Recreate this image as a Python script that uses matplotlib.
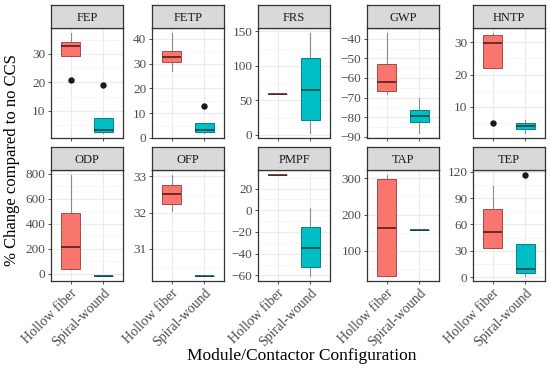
import matplotlib
matplotlib.use("Agg")
import matplotlib.pyplot as plt
import numpy as np

plt.rcParams['font.family'] = ['Liberation Serif', 'DejaVu Serif']

panels = ['FEP', 'FETP', 'FRS', 'GWP', 'HNTP', 'ODP', 'OFP', 'PMPF', 'TAP', 'TEP']
groups = ['Hollow fiber', 'Spiral-wound']

hf_whislo = [29.2, 26.9, 59.3, -68.0, 21.9, 36, 32.04, 32.4, 30.3, 33.2]
hf_q1 = [29.2, 30.5, 59.3, -66.8, 21.9, 36, 32.24, 32.4, 30.3, 33.2]
hf_med = [32.6, 32.6, 59.3, -62.0, 29.8, 214, 32.51, 32.4, 163, 51.3]
hf_q3 = [34.0, 35.1, 59.3, -52.7, 32.3, 483, 32.76, 32.4, 299, 77.3]
hf_whishi = [37.3, 42.3, 59.3, -37.1, 32.9, 789, 33.04, 32.4, 309, 103.7]
hf_fliers = [[20.8], [], [], [], [5.0], [], [], [], [], []]

sw_whislo = [2.2, 2.0, 2.7, -88.0, 1.9, -19, 30.25, -60.5, 157, 1.5]
sw_q1 = [2.5, 2.4, 21.0, -82.4, 3.0, -19, 30.25, -52.0, 157, 5.2]
sw_med = [3.3, 3.4, 64.5, -79.1, 4.0, -19, 30.25, -35.0, 157, 9.4]
sw_q3 = [7.6, 6.2, 111.4, -76.1, 5.0, -19, 30.25, -15.7, 157, 37.8]
sw_whishi = [7.6, 6.2, 147.7, -70.0, 5.8, -19, 30.25, 2.4, 157, 37.8]
sw_fliers = [[19.2], [12.7], [], [], [], [], [], [], [], [116.2]]

y_ticks = [
    [10, 20, 30],
    [0, 10, 20, 30, 40],
    [0, 50, 100, 150],
    [-90, -80, -70, -60, -50, -40],
    [10, 20, 30],
    [0, 200, 400, 600, 800],
    [31, 32, 33],
    [-60, -40, -20, 0, 20],
    [100, 200, 300],
    [0, 30, 60, 90, 120],
]

fill_colors = ['#F8766D', '#00BFC4']
edge_colors = ['#A84A46', '#00858A']
med_colors = ['#4A1614', '#003C3E']

W, H = 550, 371
fig = plt.figure(figsize=(W / 100, H / 100), dpi=100)

col_left = [51, 152, 258, 367, 473]
pw = 72
rows = [(5, 28, 138), (147, 170, 281)]  # strip top, panel top, panel bottom

def fx(px):
    return px / W

def fy(py):
    return 1 - py / H

for i, name in enumerate(panels):
    r, c = divmod(i, 5)
    st, pt, pb = rows[r]
    left = col_left[c]
    ax = fig.add_axes([fx(left), fy(pb), pw / W, (pb - pt) / H])
    sax = fig.add_axes([fx(left), fy(pt), pw / W, (pt - st) / H])

    stats = [
        dict(whislo=hf_whislo[i], q1=hf_q1[i], med=hf_med[i], q3=hf_q3[i],
             whishi=hf_whishi[i], fliers=hf_fliers[i]),
        dict(whislo=sw_whislo[i], q1=sw_q1[i], med=sw_med[i], q3=sw_q3[i],
             whishi=sw_whishi[i], fliers=sw_fliers[i]),
    ]
    allv = []
    for s in stats:
        allv += [s['whislo'], s['whishi']] + list(s['fliers'])
    lo, hi = min(allv), max(allv)
    pad = (hi - lo) * 0.05
    ylim = (lo - pad, hi + pad)

    for g in range(2):
        bp = ax.bxp([stats[g]], positions=[g + 1], widths=0.6, patch_artist=True,
                    showcaps=False, manage_ticks=False,
                    boxprops=dict(facecolor=fill_colors[g], edgecolor=edge_colors[g], linewidth=0.7),
                    medianprops=dict(color=med_colors[g], linewidth=1.1),
                    whiskerprops=dict(color='#8C8C8C', linewidth=0.8),
                    flierprops=dict(marker='o', markerfacecolor='#1A1A1A', markeredgecolor='#1A1A1A',
                                    markersize=3.6))
        for b in bp['boxes']:
            b.set_zorder(3)
        for m in bp['medians']:
            m.set_zorder(4)

    ax.set_xlim(0.4, 2.6)
    ax.set_ylim(*ylim)
    ticks = y_ticks[i]
    ax.set_yticks(ticks)
    step = ticks[1] - ticks[0]
    minors = [t + step / 2 for t in [ticks[0] - step] + ticks]
    minors = [m for m in minors if ylim[0] <= m <= ylim[1]]
    ax.set_yticks(minors, minor=True)
    ax.set_xticks([1, 2])
    if r == 1:
        ax.set_xticklabels(groups, rotation=45, ha='right', va='top', rotation_mode='anchor',
                           fontsize=10)
    else:
        ax.set_xticklabels([])
        ax.tick_params(axis='x', length=0)
    ax.grid(True, which='major', color='#EBEBEB', linewidth=0.8, zorder=0)
    ax.grid(True, which='minor', axis='y', color='#F3F3F3', linewidth=0.5, zorder=0)
    ax.set_axisbelow(True)
    ax.tick_params(axis='both', which='major', colors='#333333', labelcolor='#4D4D4D',
                   length=2.5, width=0.6, pad=1.5)
    ax.tick_params(axis='y', which='major', labelsize=9.5)
    ax.tick_params(axis='y', which='minor', length=0)
    for sp in ax.spines.values():
        sp.set_color('#333333')
        sp.set_linewidth(0.9)

    sax.set_facecolor('#D9D9D9')
    sax.set_xticks([])
    sax.set_yticks([])
    for sp in sax.spines.values():
        sp.set_color('#333333')
        sp.set_linewidth(0.9)
    sax.text(0.5, 0.45, name, transform=sax.transAxes, ha='center', va='center',
             fontsize=9, color='#1A1A1A')

fig.text(fx(302), fy(356), 'Module/Contactor Configuration', ha='center', va='center',
         fontsize=12.5, color='black')
fig.text(fx(12), fy(160), '% Change compared to no CCS', ha='center', va='center',
         rotation=90, fontsize=12, color='black')

fig.savefig('out.png', dpi=100)
